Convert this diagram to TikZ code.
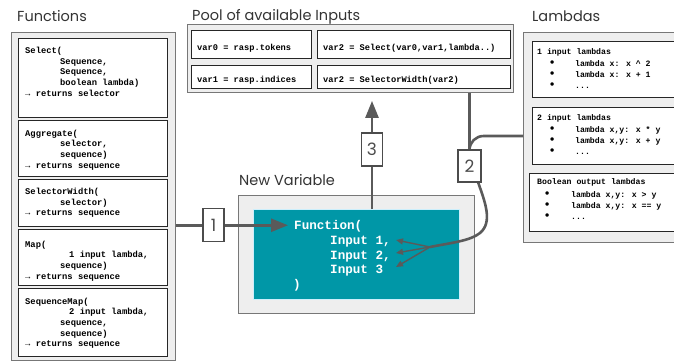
\documentclass[tikz,border=0pt]{standalone}
\usepackage{fontspec}
\newfontfamily\titlefont{Poppins}
\newfontfamily\codefont{Liberation Mono}
\usetikzlibrary{arrows.meta}
\definecolor{tealbox}{HTML}{0097A7}
\definecolor{panelfill}{HTML}{EEEEEE}
\definecolor{panelline}{HTML}{777777}
\definecolor{connc}{HTML}{5A5A5A}
\newcommand\indA{\hspace*{35pt}}
\newcommand\indB{\hspace*{44pt}}
\newcommand\bigbul{{\fontsize{12}{11}\selectfont •}}
\newcommand\bulA{\hspace*{11.5pt}\makebox[26.5pt][l]{\bigbul}}
\newcommand\bulB{\hspace*{6.5pt}\makebox[27.5pt][l]{\bigbul}}
\newcommand\monosp{\spaceskip=0pt\xspaceskip=0pt\relax}
\begin{document}
\begin{tikzpicture}[x=1pt,y=-1pt,
  panel/.style={draw=panelline, fill=panelfill, line width=0.9pt, anchor=north west, inner sep=0pt},
  fbox/.style={draw=black!85, fill=white, line width=0.8pt, anchor=north west, inner sep=0pt},
  titletext/.style={font=\titlefont\fontsize{14.5}{16}\selectfont, text=black!80, inner sep=0pt, anchor=base west},
  ftext/.style={font=\codefont\bfseries\fontsize{8.8}{10.7}\selectfont, text width=145pt, align=left, inner sep=0pt, anchor=base west},
  ptext/.style={font=\codefont\bfseries\fontsize{8.7}{10}\selectfont, inner sep=0pt, anchor=base west},
  ltext/.style={font=\codefont\bfseries\fontsize{8.2}{11}\selectfont, text width=145pt, align=left, inner sep=0pt, anchor=base west},
  ttext/.style={font=\codefont\bfseries\fontsize{12.6}{14}\selectfont, text=white, inner sep=0pt, anchor=base west},
  conn/.style={draw=connc, line width=2.6pt},
  thinconn/.style={draw=connc, line width=1.4pt, -{Triangle[length=7pt,width=6pt]}},
  bigtip/.style={-{Triangle[length=17pt,width=13pt]}},
  numbox/.style={draw=black!70, fill=white, line width=1.3pt, minimum width=21pt, minimum height=33pt, inner sep=0pt, font=\titlefont\fontsize{17}{17}\selectfont, text=black!70},
]
\useasboundingbox (0,0) rectangle (674,360);

% ---------- Functions ----------
\node[titletext] (tfun) at (17,21) {Functions};
\node[panel, minimum width=164.5pt, minimum height=328pt] (fpanel) at (10.5,32) {};
\node[fbox, minimum width=148.5pt, minimum height=79pt] (bsel) at (18,38) {};
\node[ftext] (tsel) at (25,53.5) {\monosp Select(\\\indA Sequence,\\\indA Sequence,\\\indA boolean lambda)\\→ returns selector};
\node[fbox, minimum width=148.5pt, minimum height=56.5pt] (bagg) at (18,119.5) {};
\node[ftext] (tagg) at (25,136) {\monosp Aggregate(\\\indA selector,\\\indA sequence)\\→ returns sequence};
\node[fbox, minimum width=148.5pt, minimum height=46.5pt] (bsw) at (18,179) {};
\node[ftext] (tsw) at (25,194.5) {\monosp SelectorWidth(\\\indA selector)\\→ returns sequence};
\node[fbox, minimum width=148.5pt, minimum height=56.5pt] (bmap) at (18,228.5) {};
\node[ftext] (tmap) at (25,247) {\monosp Map(\\\indB 1 input lambda,\\\indA sequence)\\→ returns sequence};
\node[fbox, minimum width=148.5pt, minimum height=67.5pt] (bsm) at (18,288) {};
\node[ftext] (tsm) at (25,304) {\monosp SequenceMap(\\\indB 2 input lambda,\\\indA sequence,\\\indA sequence)\\→ returns sequence};

% ---------- Pool ----------
\node[titletext] (tpool) at (192,20.5) {Pool of available Inputs};
\node[panel, minimum width=326pt, minimum height=68pt] (pool) at (187,24) {};
\node[fbox, minimum width=120pt, minimum height=28pt] (b0) at (191,30) {};
\node[fbox, minimum width=193pt, minimum height=28pt] (b2a) at (317,30) {};
\node[fbox, minimum width=120pt, minimum height=23pt] (b1) at (191,64.5) {};
\node[fbox, minimum width=193pt, minimum height=23pt] (b2b) at (317,64.5) {};
\node[ptext] (t0) at (197,50) {var0 = rasp.tokens};
\node[ptext] (t2a) at (323,50) {var2 = Select(var0,var1,lambda..)};
\node[ptext] (t1) at (197,82.5) {var1 = rasp.indices};
\node[ptext] (t2b) at (323,82.5) {var2 = SelectorWidth(var2)};

% ---------- Lambdas ----------
\node[titletext] (tlam) at (532,21) {Lambdas};
\node[panel, minimum width=160pt, minimum height=210pt] (lpanel) at (523,32) {};
\node[fbox, minimum width=150pt, minimum height=56pt] (l1) at (532,41) {};
\node[ltext] (tl1) at (537,54.5) {\monosp 1 input lambdas\\[1pt]\bulA lambda x: x \textasciicircum{} 2\\\bulA lambda x: x + 1\\\bulA ...};
\node[fbox, minimum width=150pt, minimum height=57pt] (l2) at (532,107) {};
\node[ltext] (tl2) at (537,120) {\monosp 2 input lambdas\\[1.5pt]\bulA lambda x,y: x * y\\\bulA lambda x,y: x + y\\\bulA ...};
\node[fbox, minimum width=155pt, minimum height=58pt] (l3) at (529,173) {};
\node[ltext] (tl3) at (537,184.5) {\monosp Boolean output lambdas\\[1.5pt]\bulB lambda x,y: x > y\\\bulB lambda x,y: x == y\\\bulB ...};

% ---------- New Variable ----------
\node[titletext] (tnew) at (239,185) {New Variable};
\node[panel, minimum width=236pt, minimum height=118pt] (npanel) at (238,195) {};
\node[draw=cyan!20, fill=tealbox, line width=0.6pt, anchor=north west, minimum width=206pt, minimum height=90pt, inner sep=0pt] (teal) at (253,209) {};
\node[ttext] (fn) at (294,229) {Function(};
\node[ttext] (in1) at (330,244) {Input 1,};
\node[ttext] (in2) at (330,259) {Input 2,};
\node[ttext] (in3) at (330,273.5) {Input 3};
\node[ttext] (cl) at (293,288) {)};

% ---------- Connectors ----------
\coordinate (p1) at (213.5,225.25);
\coordinate (p3) at (372,149.5);
\coordinate (p2) at (469.5,166);
\coordinate (tip1) at (288,225.25);
\coordinate (j2) at (469.5,136);
\coordinate (e2) at (478,182);
\coordinate (hub) at (430,247);
\coordinate (a1) at (396,240);
\coordinate (a2) at (396,253);
\coordinate (a3) at (396,267);

\draw[conn, bigtip] (fpanel.east |- tip1) -- (tip1);
\draw[conn, bigtip, shorten >=8pt] (teal.north -| p3) -- (pool.south -| p3);
\draw[conn] (pool.south -| p2) -- (p2);
\draw[conn, rounded corners=14pt] (p2) -- (j2) -- (lpanel.west |- j2);
\draw[conn] (p2) -- (e2) .. controls (485,202) and (493,222) .. (480,233) .. controls (470,241) and (450,243) .. (hub);
\draw[thinconn] (hub) -- (a1);
\draw[thinconn] (hub) -- (a2);
\draw[thinconn] (hub) -- (a3);

\node[numbox] (n1) at (p1) {1};
\node[numbox] (n3) at (p3) {3};
\node[numbox, minimum width=23pt, minimum height=32pt] (n2) at (p2) {2};
\end{tikzpicture}
\end{document}
